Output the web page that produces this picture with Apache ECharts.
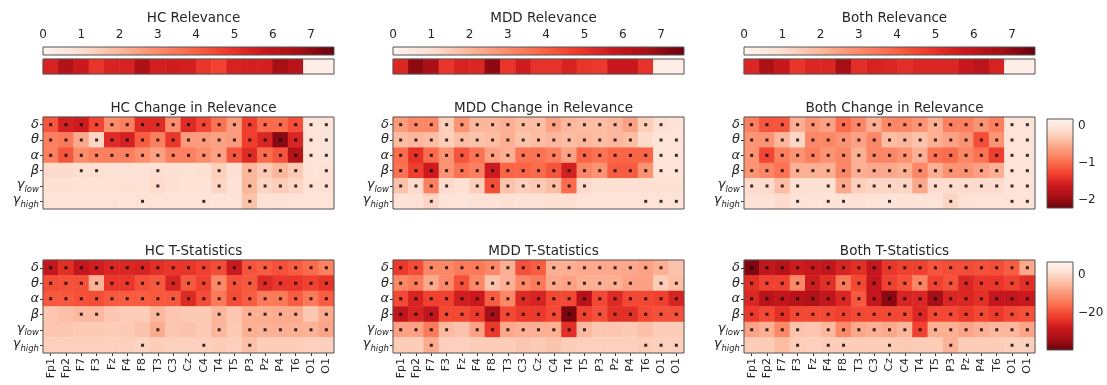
<!DOCTYPE html>
<html>
<head>
<meta charset="utf-8">
<script src="https://cdn.jsdelivr.net/npm/echarts@6.0.0/dist/echarts.min.js"></script>
<style>
html, body { margin: 0; padding: 0; background: #fff; }
#main { width: 1107px; height: 385px; }
</style>
</head>
<body>
<div id="main"></div>
<script>
// channels / bands
const channels = ['Fp1', 'Fp2', 'F7', 'F3', 'Fz', 'F4', 'F8', 'T3', 'C3', 'Cz', 'C4', 'T4', 'T5', 'P3', 'Pz', 'P4', 'T6', 'O1', 'O1']
const bands = ['δ', 'θ', 'α', 'β', 'γ_low', 'γ_high']

// relevance strips (top row)
const hcRelevance = [5.4, 6.3, 5.7, 4.9, 5.4, 5.4, 6.4, 5.5, 5.6, 5.5, 4.9, 4.6, 5.4, 5.5, 5.5, 6.6, 6.2, 0.3, 0.3]
const mddRelevance = [5.3, 7.0, 6.5, 4.9, 5.4, 5.3, 7.0, 4.9, 5.6, 5.0, 5.0, 5.4, 4.9, 4.8, 5.8, 5.8, 5.0, 0.3, 0.3]
const bothRelevance = [5.3, 6.4, 5.8, 4.9, 5.3, 5.3, 6.6, 5.1, 5.4, 5.3, 5.1, 5.3, 5.3, 5.3, 5.8, 6.1, 5.4, 0.3, 0.3]
const relTicks = [0, 1, 2, 3, 4, 5, 6, 7]

// change in relevance (rows = bands)
const hcChange = [
  [-1.15, -1.55, -1.6, -1.25, -0.75, -0.85, -1.45, -1.45, -0.75, -1.45, -1.25, -0.95, -0.65, -1.3, -1.0, -1.0, -1.2, -0.05, -0.05],
  [-0.85, -0.9, -0.55, -0.2, -1.45, -1.55, -1.1, -0.85, -1.35, -0.65, -0.65, -0.6, -0.65, -1.3, -1.5, -2.05, -1.5, -0.05, -0.05],
  [-0.85, -1.15, -0.75, -0.85, -0.85, -0.85, -0.75, -0.6, -0.85, -0.85, -0.75, -0.6, -1.15, -1.45, -1.0, -1.15, -1.8, -0.05, -0.05],
  [-0.15, -0.15, -0.12, -0.12, -0.08, -0.08, -0.08, -0.12, -0.1, -0.08, -0.1, -0.25, -0.1, -0.45, -0.3, -0.45, -0.3, -0.05, -0.1],
  [-0.1, -0.1, -0.08, -0.08, -0.08, -0.1, -0.08, -0.15, -0.1, -0.08, -0.08, -0.2, -0.08, -0.45, -0.2, -0.25, -0.2, -0.1, -0.1],
  [-0.05, -0.05, -0.05, -0.05, -0.05, -0.05, -0.08, -0.05, -0.05, -0.05, -0.05, -0.05, -0.05, -0.35, -0.08, -0.08, -0.05, -0.05, -0.05]
]
const mddChange = [
  [-0.65, -0.8, -0.8, -0.25, -0.7, -0.45, -0.45, -0.5, -0.4, -0.4, -0.6, -0.45, -0.4, -0.4, -0.45, -0.6, -0.25, -0.12, -0.05],
  [-0.4, -0.45, -0.4, -0.25, -0.4, -0.35, -0.4, -0.5, -0.35, -0.4, -0.45, -0.4, -0.45, -0.4, -0.45, -0.4, -0.15, -0.05, -0.05],
  [-1.0, -1.4, -1.0, -0.7, -1.15, -0.95, -0.6, -0.5, -0.95, -0.95, -0.85, -0.6, -1.05, -0.95, -1.05, -1.05, -1.05, -0.05, -0.05],
  [-0.95, -1.3, -1.6, -0.7, -0.95, -0.85, -1.6, -1.05, -1.05, -1.0, -1.15, -1.55, -0.8, -0.7, -1.1, -1.1, -0.7, -0.05, -0.05],
  [-0.35, -0.15, -0.85, -0.15, -0.1, -0.25, -1.2, -0.35, -0.25, -0.3, -0.4, -1.0, -0.15, -0.1, -0.1, -0.1, -0.1, -0.1, -0.1],
  [-0.08, -0.08, -0.2, -0.05, -0.05, -0.08, -0.08, -0.1, -0.08, -0.08, -0.1, -0.1, -0.05, -0.05, -0.05, -0.05, -0.05, -0.05, -0.05]
]
const bothChange = [
  [-0.85, -1.15, -1.15, -0.5, -0.7, -0.6, -1.0, -0.8, -0.5, -0.8, -0.8, -0.7, -0.5, -0.85, -0.85, -0.7, -0.85, -0.05, -0.05],
  [-0.7, -0.7, -0.45, -0.2, -0.8, -0.8, -0.7, -0.6, -0.8, -0.4, -0.45, -0.35, -0.5, -0.6, -0.7, -1.2, -0.7, -0.05, -0.05],
  [-0.7, -1.25, -0.85, -0.7, -0.85, -0.7, -0.8, -0.5, -0.8, -0.8, -0.7, -0.5, -0.95, -1.0, -0.8, -0.95, -1.3, -0.05, -0.05],
  [-0.7, -0.8, -0.95, -0.5, -0.5, -0.5, -0.8, -0.5, -0.55, -0.55, -0.5, -0.8, -0.5, -0.7, -0.7, -0.6, -0.5, -0.05, -0.05],
  [-0.15, -0.15, -0.4, -0.12, -0.1, -0.1, -0.55, -0.25, -0.2, -0.2, -0.2, -0.55, -0.15, -0.15, -0.15, -0.15, -0.15, -0.05, -0.05],
  [-0.08, -0.08, -0.15, -0.08, -0.05, -0.05, -0.08, -0.08, -0.05, -0.05, -0.08, -0.08, -0.05, -0.2, -0.08, -0.05, -0.05, -0.05, -0.05]
]
const changeTicks = [0, -1, -2]

// t-statistics
const hcT = [
  [-29, -24, -29, -27, -25.5, -25.5, -26, -24, -23, -23, -21.5, -20, -28, -19, -18, -19.5, -18, -16, -13],
  [-20, -19.5, -19.5, -6, -23, -23, -19.5, -18.5, -26, -18.5, -21.5, -12, -19.5, -18.5, -25, -23, -23, -21.5, -23.5],
  [-18.5, -18.5, -19.5, -20, -18.5, -18, -18, -18.5, -18.5, -25, -20, -14, -20, -18, -14, -14, -18, -14, -18],
  [-3, -4, -5, -5, -3, -2, -2, -5, -3, -2.5, -2.5, -5.5, -3, -6.5, -6.5, -7, -7, -3, -7],
  [-3, -3, -2.5, -2.5, -2, -2.5, -3.5, -7, -3, -3.5, -2.5, -5.5, -2.5, -6.5, -6, -6.5, -6.5, -6, -8],
  [-1.5, -1.5, -1.5, -1.5, -1.5, -1.5, -1, -2, -1.5, -1.5, -1.5, -2, -1.5, -4, -2, -2, -2, -1.5, -1.5]
]
const mddT = [
  [-22.5, -20, -12, -12, -14, -14, -12, -6.5, -19.5, -18, -6.5, -6.5, -7.5, -7.5, -7.5, -7.5, -8.5, -6.5, -3.5],
  [-12, -14, -7.5, -12, -19.5, -12, -3.5, -6.5, -12, -14, -7.5, -8.5, -6.5, -6.5, -6.5, -8.5, -8.5, -2, -4.5],
  [-20.5, -26, -21.5, -21.5, -27, -28, -18, -12, -25, -26, -20.5, -20.5, -31, -20.5, -25, -20.5, -20.5, -21.5, -26],
  [-29.5, -26, -29.5, -20.5, -20.5, -22.5, -33.5, -20.5, -22.5, -22.5, -20.5, -37.5, -21.5, -19.5, -24, -24, -20.5, -19.5, -19.5],
  [-8.5, -8.5, -14, -5, -3.5, -8.5, -22.5, -7.5, -6.5, -6.5, -6.5, -24, -5, -3, -3, -2.5, -4, -2, -2],
  [-2, -2, -7, -1.5, -1.5, -2, -2, -2, -3, -2.5, -3.5, -2, -1.5, -1.5, -1.5, -1.5, -2, -1.5, -1.5]
]
const bothT = [
  [-37, -29.5, -31, -27.5, -28.5, -29.5, -26, -24, -29, -23, -21.5, -21.5, -19, -20, -20, -19.5, -20, -18, -7.5],
  [-24, -21.5, -21.5, -12, -27.5, -24, -14, -20.5, -29, -21.5, -19.5, -12.5, -21.5, -19.5, -25.5, -23, -23, -21.5, -24],
  [-25.5, -31, -29.5, -31, -32, -29.5, -25.5, -18.5, -29, -36, -26, -25.5, -33.5, -25.5, -25.5, -24, -29, -29, -28],
  [-22.5, -20.5, -24, -20.5, -20.5, -20.5, -21.5, -20.5, -20.5, -20.5, -20.5, -25.5, -20.5, -20.5, -22.5, -20.5, -22.5, -20.5, -19.5],
  [-8.5, -6.5, -12, -3.5, -3, -5, -12, -7.5, -6.5, -7.5, -5.5, -21.5, -6.5, -6.5, -8, -6.5, -5.5, -5.5, -8],
  [-2, -2, -4.5, -2, -1.5, -2, -2, -2, -2, -2, -2.5, -2, -2, -6, -2, -2, -2, -1.5, -1.5]
]
const tTicks = [0, -20]

// significance masks (1 = dot), shared by change and t maps
const hcSig = ['1111111111111111111', '1111111111111111111', '1111111111111111111',
  '0011000100010111101', '0000000100010111111', '0000001000100100000']
const mddSig = ['1111111111111111110', '1111111111111111011', '1111111111111111111',
  '1111111111111111111', '1111011111111000000', '0010000000000000111']
const bothSig = ['1111111111111111111', '1111111111111111111', '1111111111111111111',
  '1111111111111111111', '1111011111111111111', '0001011001000100011']

const groups = ['HC', 'MDD', 'Both']
const relevance = [hcRelevance, mddRelevance, bothRelevance]
const change = [hcChange, mddChange, bothChange]
const tstat = [hcT, mddT, bothT]
const sig = [hcSig, mddSig, bothSig]

// colour scales
const reds = ['#fff5f0', '#fee0d2', '#fcbba1', '#fc9272', '#fb6a4a', '#ef3b2c', '#cb181d', '#a50f15', '#67000d']
const relRange = [0, 7.6]
const changeRange = [-2.22, 0.19]
const tRange = [-39.5, 6.8]

const font = 'DejaVu Sans'
const textColor = '#262626'
const panelLeft = [43, 393, 744]
const panelWidth = 291

const chart = echarts.init(document.getElementById('main'))

const grids = [], xAxes = [], yAxes = [], series = [], titles = []
const relIdx = [], changeIdx = [], tIdx = []

function addGrid(grid, xAxis, yAxis) {
  grids.push(grid)
  const i = grids.length - 1
  xAxes.push(Object.assign({ gridIndex: i }, xAxis))
  yAxes.push(Object.assign({ gridIndex: i }, yAxis))
  return i
}

function frame(i, fill) {
  return {
    type: 'custom', xAxisIndex: i, yAxisIndex: i, silent: true, z: 5, clip: false,
    data: [[0, 0]],
    renderItem(params) {
      const c = params.coordSys
      return {
        type: 'rect',
        shape: { x: c.x, y: c.y, width: c.width, height: c.height },
        style: { fill: fill || 'none', stroke: '#555', lineWidth: 1 }
      }
    }
  }
}

function cells(rows) {
  const out = []
  rows.forEach((row, y) => row.forEach((v, x) => out.push([x, y, v])))
  return out
}

function dots(mask) {
  const out = []
  mask.forEach((row, y) => row.split('').forEach((c, x) => { if (c === '1') out.push([x, y]) }))
  return out
}

function bandLabel(v) {
  const parts = v.split('_')
  return parts[1] ? `{g|${parts[0]}}{s|${parts[1]}}` : `{d|${parts[0]}}`
}

const minus = v => (v < 0 ? '\u2212' + Math.abs(v) : String(v))

const bandAxis = {
  type: 'category', data: bands, inverse: true,
  axisLine: { show: false },
  axisTick: { show: true, alignWithLabel: true, interval: 0, length: 3, lineStyle: { color: '#333' } },
  axisLabel: {
    formatter: bandLabel, interval: 0, margin: 4, color: textColor,
    rich: {
      d: { fontSize: 13, fontStyle: 'italic', fontFamily: font, color: textColor },
      g: { fontSize: 13, fontStyle: 'italic', fontFamily: font, color: textColor, verticalAlign: 'bottom', padding: [0, 0, 3, 0] },
      s: { fontSize: 8.5, fontStyle: 'italic', fontFamily: font, color: textColor, verticalAlign: 'bottom' }
    }
  }
}

const titleStyle = { fontSize: 13.5, fontWeight: 'normal', fontFamily: font, color: textColor }

groups.forEach((name, p) => {
  const left = panelLeft[p]
  const cx = left + panelWidth / 2

  titles.push({ text: name + ' Relevance', left: cx, top: 6, textAlign: 'center', textStyle: titleStyle })
  titles.push({ text: name + ' Change in Relevance', left: cx, top: 96, textAlign: 'center', textStyle: titleStyle })
  titles.push({ text: name + ' T-Statistics', left: cx, top: 239, textAlign: 'center', textStyle: titleStyle })

  // horizontal colour bar
  const cb = addGrid(
    { left, top: 47, width: panelWidth, height: 8 },
    {
      type: 'value', min: relRange[0], max: relRange[1], position: 'top',
      axisLine: { show: false }, splitLine: { show: false },
      axisTick: { show: true, length: 3, customValues: relTicks, lineStyle: { color: '#333' } },
      axisLabel: { customValues: relTicks, fontSize: 12, fontFamily: font, color: textColor, margin: 6 }
    },
    { type: 'value', min: 0, max: 1, show: false }
  )
  series.push(frame(cb, new echarts.graphic.LinearGradient(0, 0, 1, 0,
    reds.map((c, k) => ({ offset: k / (reds.length - 1), color: c })))))

  // relevance strip
  const st = addGrid(
    { left, top: 59, width: panelWidth, height: 15 },
    { type: 'category', data: channels, show: false },
    { type: 'category', data: ['r'], show: false }
  )
  relIdx.push(series.length)
  series.push({
    type: 'heatmap', xAxisIndex: st, yAxisIndex: st, silent: true,
    data: relevance[p].map((v, x) => [x, 0, v])
  })
  series.push(frame(st))

  // change in relevance
  const ch = addGrid(
    { left, top: 117, width: panelWidth, height: 92 },
    { type: 'category', data: channels, show: false },
    bandAxis
  )
  changeIdx.push(series.length)
  series.push({ type: 'heatmap', xAxisIndex: ch, yAxisIndex: ch, silent: true, data: cells(change[p]) })
  series.push({
    type: 'scatter', xAxisIndex: ch, yAxisIndex: ch, silent: true, z: 4,
    symbol: 'rect', symbolSize: 3, itemStyle: { color: '#000' }, data: dots(sig[p])
  })
  series.push(frame(ch))

  // t statistics
  const ts = addGrid(
    { left, top: 260, width: panelWidth, height: 93 },
    {
      type: 'category', data: channels,
      axisLine: { show: false },
      axisTick: { show: true, alignWithLabel: true, interval: 0, length: 3, lineStyle: { color: '#333' } },
      axisLabel: { rotate: 90, interval: 0, fontSize: 11, fontFamily: font, color: textColor, margin: 5 }
    },
    bandAxis
  )
  tIdx.push(series.length)
  series.push({ type: 'heatmap', xAxisIndex: ts, yAxisIndex: ts, silent: true, data: cells(tstat[p]) })
  series.push({
    type: 'scatter', xAxisIndex: ts, yAxisIndex: ts, silent: true, z: 4,
    symbol: 'rect', symbolSize: 3, itemStyle: { color: '#000' }, data: dots(sig[p])
  })
  series.push(frame(ts))
})

// vertical colour bars on the right
function sideBar(top, height, range, ticks) {
  const i = addGrid(
    { left: 1047, top, width: 26, height },
    { type: 'value', min: 0, max: 1, show: false },
    {
      type: 'value', min: range[0], max: range[1], position: 'right',
      axisLine: { show: false }, splitLine: { show: false },
      axisTick: { show: true, length: 3, customValues: ticks, lineStyle: { color: '#333' } },
      axisLabel: { customValues: ticks, formatter: minus, fontSize: 12, fontFamily: font, color: textColor, margin: 5 }
    }
  )
  series.push(frame(i, new echarts.graphic.LinearGradient(0, 0, 0, 1,
    reds.map((c, k) => ({ offset: k / (reds.length - 1), color: c })))))
}
sideBar(119, 89, changeRange, changeTicks)
sideBar(262, 88, tRange, tTicks)

const reversed = reds.slice().reverse()

chart.setOption({
  backgroundColor: '#fff',
  animation: false,
  title: titles,
  grid: grids,
  xAxis: xAxes,
  yAxis: yAxes,
  visualMap: [
    { type: 'continuous', show: false, dimension: 2, min: relRange[0], max: relRange[1], seriesIndex: relIdx, inRange: { color: reds } },
    { type: 'continuous', show: false, dimension: 2, min: changeRange[0], max: changeRange[1], seriesIndex: changeIdx, inRange: { color: reversed } },
    { type: 'continuous', show: false, dimension: 2, min: tRange[0], max: tRange[1], seriesIndex: tIdx, inRange: { color: reversed } }
  ],
  series
})
</script>
</body>
</html>
